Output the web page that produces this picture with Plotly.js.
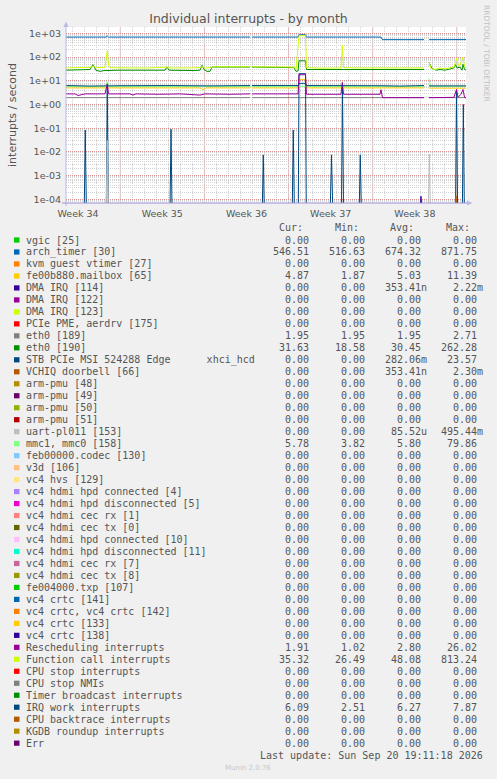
<!DOCTYPE html>
<html><head><meta charset="utf-8">
<script src="https://cdn.plot.ly/plotly-3.0.1.min.js"></script>
<style>html,body{margin:0;padding:0;background:#F0F0F0;}#chart{width:497px;height:779px;}</style>
</head><body><div id="chart"></div>
<script>
// ---------------- legend table (one entry per munin field) ----------------
const seriesNames = [
  "vgic [25]","arch_timer [30]","kvm guest vtimer [27]","fe00b880.mailbox [65]",
  "DMA IRQ [114]","DMA IRQ [122]","DMA IRQ [123]","PCIe PME, aerdrv [175]",
  "eth0 [189]","eth0 [190]","STB PCIe MSI 524288 Edge      xhci_hcd","VCHIQ doorbell [66]",
  "arm-pmu [48]","arm-pmu [49]","arm-pmu [50]","arm-pmu [51]",
  "uart-pl011 [153]","mmc1, mmc0 [158]","feb00000.codec [130]","v3d [106]","vc4 hvs [129]",
  "vc4 hdmi hpd connected [4]","vc4 hdmi hpd disconnected [5]","vc4 hdmi cec rx [1]","vc4 hdmi cec tx [0]",
  "vc4 hdmi hpd connected [10]","vc4 hdmi hpd disconnected [11]","vc4 hdmi cec rx [7]","vc4 hdmi cec tx [8]",
  "fe004000.txp [107]","vc4 crtc [141]","vc4 crtc, vc4 crtc [142]","vc4 crtc [133]","vc4 crtc [138]",
  "Rescheduling interrupts","Function call interrupts","CPU stop interrupts","CPU stop NMIs",
  "Timer broadcast interrupts","IRQ work interrupts","CPU backtrace interrupts","KGDB roundup interrupts","Err"
];
const seriesColors = [
  "#00CC00","#0066B3","#FF8000","#FFCC00","#330099","#990099","#CCFF00","#FF0000",
  "#808080","#008F00","#00487D","#B35A00","#B38F00","#6B006B","#8FB300","#B30000",
  "#BEBEBE","#80FF80","#80C9FF","#FFC080","#FFE680","#AA80FF","#EE00CC","#FF8080",
  "#666600","#FFBFFF","#00FFCC","#CC6699","#999900","#00CC00","#0066B3","#FF8000",
  "#FFCC00","#330099","#990099","#CCFF00","#FF0000","#808080","#008F00","#00487D",
  "#B35A00","#B38F00","#6B006B"
];
const curVals = ["0.00","546.51","0.00","4.87","0.00","0.00","0.00","0.00","1.95","31.63","0.00","0.00",
  "0.00","0.00","0.00","0.00","0.00","5.78","0.00","0.00","0.00","0.00","0.00","0.00","0.00","0.00","0.00",
  "0.00","0.00","0.00","0.00","0.00","0.00","0.00","1.91","35.32","0.00","0.00","0.00","6.09","0.00","0.00","0.00"];
const minVals = ["0.00","516.63","0.00","1.87","0.00","0.00","0.00","0.00","1.95","18.58","0.00","0.00",
  "0.00","0.00","0.00","0.00","0.00","3.82","0.00","0.00","0.00","0.00","0.00","0.00","0.00","0.00","0.00",
  "0.00","0.00","0.00","0.00","0.00","0.00","0.00","1.02","26.49","0.00","0.00","0.00","2.51","0.00","0.00","0.00"];
const avgVals = ["0.00","674.32","0.00","5.03","353.41n","0.00","0.00","0.00","1.95","30.45","282.06m","353.41n",
  "0.00","0.00","0.00","0.00","85.52u","5.80","0.00","0.00","0.00","0.00","0.00","0.00","0.00","0.00","0.00",
  "0.00","0.00","0.00","0.00","0.00","0.00","0.00","2.80","48.08","0.00","0.00","0.00","6.27","0.00","0.00","0.00"];
const maxVals = ["0.00","871.75","0.00","11.39","2.22m","0.00","0.00","0.00","2.71","262.28","23.57","2.30m",
  "0.00","0.00","0.00","0.00","495.44m","79.86","0.00","0.00","0.00","0.00","0.00","0.00","0.00","0.00","0.00",
  "0.00","0.00","0.00","0.00","0.00","0.00","0.00","26.02","813.24","0.00","0.00","0.00","7.87","0.00","0.00","0.00"];
const columnHeaders = ["Cur:","Min:","Avg:","Max:"];

// ---------------- axis labels ----------------
const weekLabelDays = [1, 8, 15, 22, 29];
const weekLabels = ["Week 34","Week 35","Week 36","Week 37","Week 38"];
const weekBoundaryDays = [4.5, 11.5, 18.5, 25.5, 32.5];
const yTickVals = [1e-4, 1e-3, 1e-2, 1e-1, 1e0, 1e1, 1e2, 1e3];
const yTickText = ["1e-04","1e-03","1e-02","1e-01","1e+00","1e+01","1e+02","1e+03"];

// ---------------- series (x in days from the left edge, y in interrupts/s; null = no data) ----------------
const archTimerX = [0,3.33,3.43,3.53,15.30,15.38,15.46,19.29,19.37,19.91,19.99,26.18,26.31,29.76,29.97,30.17,31.0,31.09,31.5,32.46,32.6,33.25];
const archTimerY = [700,700,780,700,700,null,700,700,870,880,700,700,545,545,null,545,545,570,548,555,545,548];

const mailboxX = [0,11.14,11.39,11.64,15.30,15.38,15.46,19.29,19.37,19.91,19.99,29.76,29.97,30.17,33.25];
const mailboxY = [5.0,5.0,4.2,5.0,5.0,null,5.0,5.0,11.4,11.4,5.0,5.0,null,4.9,4.87];

const dma114X = [0,29.45,29.51,29.57,33.25];
const dma114Y = [0,0,1.35e-4,0,0];

const eth189X = [0,15.30,15.38,15.46,29.76,29.97,30.17,33.25];
const eth189Y = [1.95,1.95,null,1.95,1.95,null,1.95,1.95];

const eth190X = [0,1.58,2.00,2.24,2.49,2.83,3.16,4.49,6.98,8.23,8.40,8.56,10.72,11.14,11.31,11.47,11.72,11.97,12.14,12.80,15.30,15.38,15.46,16.96,18.95,19.12,19.29,19.37,19.91,19.99,21.11,22.97,26.10,27.76,29.76,29.97,30.17,30.42,30.76,31.09,31.50,31.92,32.25,32.38,32.50,32.75,32.92,33.00,33.13,33.25];
const eth190Y = [28,28,30,48,28,25,27,28,28,28,38,28,27,28,45,30,25,25,38,38,38,null,38,37,36,25,26,70,70,30,30,30,30,30,30,null,60,33,28,30,28,32,35,48,35,38,28,50,30,28];

const xhciX = [0,1.52,1.60,1.69,3.35,3.43,3.52,8.65,8.73,8.81,16.32,16.40,16.48,18.81,18.89,18.98,19.31,19.37,19.91,19.97,21.97,22.07,22.17,22.90,22.98,23.07,24.38,24.46,24.55,32.38,32.46,32.55,32.95,33.03,33.11,33.25];
const xhciY = [0,0,0.083,0,0,6,0,0,0.09,0,0,0.0075,0,0,0.083,0,0,20,20,0,0,0.0075,0,0,8,0,0,0.0075,0,0,4,0,0,1.0,0,0];

const vchiqX = [0,32.36,32.42,32.48,33.25];
const vchiqY = [0,0,1.4e-4,0,0];

const uartX = [0,3.35,3.43,3.52,30.12,30.20,30.28,33.25];
const uartY = [0,0,0.03,0,0,0.008,0,0];

const mmcX = [0,3.24,3.43,3.57,15.30,15.38,15.46,29.76,29.97,30.17,30.30,33.25];
const mmcY = [5.8,5.8,9,5.8,5.8,null,5.8,5.8,null,13,5.8,5.8];

const reschedX = [0,0.75,1.00,1.58,3.24,3.33,3.43,3.53,5.32,5.57,5.82,7.81,9.48,11.14,11.55,13.63,15.30,15.38,15.46,19.29,19.37,19.91,19.99,22.86,22.97,23.07,26.10,26.18,26.31,29.76,29.97,30.17,31.09,32.25,32.46,32.59,32.83,33.00,33.13,33.25];
const reschedY = [2.8,2.8,2.4,2.8,2.8,5,7.5,2.8,2.8,2.5,2.8,2.7,2.8,2.5,2.8,2.7,2.8,null,2.8,2.8,18,18,2.7,2.7,8.5,2.7,2.7,4.2,1.95,1.95,null,1.95,1.95,2.0,4.3,2.0,2.7,4.3,2.0,1.91];

const funcCallX = [0,1.16,2.00,2.24,2.49,3.24,3.33,3.43,3.53,3.66,5.32,6.98,8.40,8.65,10.31,11.14,11.31,11.55,12.14,12.22,15.30,15.38,15.46,18.95,19.12,19.29,19.37,19.91,19.99,21.11,22.86,22.97,23.07,24.44,26.10,27.76,29.76,29.97,30.17,30.34,30.67,31.09,31.50,31.92,32.25,32.46,32.59,32.75,32.92,33.00,33.13,33.25];
const funcCallY = [35,36,37,42,36,37,70,190,45,36,35,35,38,35,35,36,40,34,37,39,39,null,39,38,30,300,800,800,36,34,35,320,36,35,36,35,35,null,62,33,30,35,32,34,38,90,46,45,70,100,40,35];

const irqWorkX = [0,2.00,4.49,6.15,8.65,11.97,13.63,15.30,15.38,15.46,19.29,19.37,19.91,19.99,21.95,26.10,27.76,29.76,29.97,30.17,33.25];
const irqWorkY = [6.3,6.0,6.2,6.4,6.3,6.1,6.0,6.3,null,6.3,6.3,7.8,7.8,6.3,6.4,6.2,6.0,6.3,null,6.1,6.1];

// which legend row each drawn series belongs to (drawn in legend order, like rrdtool)
const plotted = [
  {row: 1, x: archTimerX, y: archTimerY},
  {row: 3, x: mailboxX, y: mailboxY},
  {row: 4, x: dma114X, y: dma114Y},
  {row: 8, x: eth189X, y: eth189Y},
  {row: 9, x: eth190X, y: eth190Y},
  {row: 10, x: xhciX, y: xhciY},
  {row: 11, x: vchiqX, y: vchiqY},
  {row: 16, x: uartX, y: uartY},
  {row: 17, x: mmcX, y: mmcY},
  {row: 34, x: reschedX, y: reschedY},
  {row: 35, x: funcCallX, y: funcCallY},
  {row: 39, x: irqWorkX, y: irqWorkY}
];

// ---------------- geometry ----------------
const FIG_W = 497, FIG_H = 779;
const PL = 66, PR = 466, PT = 27, PB = 203;
const XR = [0, 33.25];
const YR = [-4.156, 3.27];
const PX = px => (px - PL) / (PR - PL);
const PY = py => (PB - py) / (PB - PT);
// zero cannot sit on a log axis; rrdtool pins it below the floor, so do the same
const ZERO_FLOOR = 5e-5;
const onLog = v => (v === null ? null : (v > 0 ? v : ZERO_FLOOR));

const traces = plotted.map(s => ({
  type: 'scatter', mode: 'lines',
  x: s.x, y: s.y.map(onLog),
  name: seriesNames[s.row],
  line: {color: seriesColors[s.row], width: 1},
  connectgaps: false, hoverinfo: 'skip', showlegend: false
}));

const SANS = 'DejaVu Sans, sans-serif';
const MONO = 'DejaVu Sans Mono, monospace';
const TXT = '#555555';
const annotations = [];
const shapes = [];

function note(text, px, py, xanchor, font, extra) {
  annotations.push(Object.assign({
    text: text, xref: 'paper', yref: 'paper', x: PX(px), y: PY(py),
    xanchor: xanchor, yanchor: 'middle', showarrow: false,
    borderpad: 0, borderwidth: 0, font: font
  }, extra || {}));
}
const monoFont = {family: MONO, size: 10, color: TXT};
const nb = s => s.replace(/ /g, '\u00A0');

// header
const headerRight = [303, 358.5, 414, 470];
columnHeaders.forEach((h, i) => note(h, headerRight[i], 227.5, 'right', monoFont));

// rows
const ROW0 = 240, ROWSTEP = 11.98, CHAR = 6.02;
const valueRight = [309.3, 365, 420.7, 476.7];
const cols = [curVals, minVals, avgVals, maxVals];
seriesNames.forEach((name, i) => {
  const y = ROW0 + i * ROWSTEP;
  shapes.push({type: 'rect', xref: 'paper', yref: 'paper', layer: 'above',
    x0: PX(14), x1: PX(19.5), y0: PY(y + 2.6), y1: PY(y - 2.6),
    fillcolor: seriesColors[i], line: {width: 0}});
  note(nb(name), 26, y, 'left', monoFont);
  cols.forEach((col, c) => {
    const v = col[i];
    const suffix = /[a-zA-Z]$/.test(v) ? CHAR : 0;
    note(v, valueRight[c] + suffix, y, 'right', monoFont);
  });
});
note(nb('Last update: Sun Sep 20 19:11:18 2026'), 483.3, 755.7, 'right', monoFont);
note('Munin 2.0.76', 248, 768, 'center', {family: SANS, size: 7, color: '#C8C8C8'});
note('RRDTOOL / TOBI OETIKER', 487, 53, 'center', {family: SANS, size: 7.5, color: '#C0C0C0'}, {textangle: 90});

// week boundary grid lines (major, red dotted)
weekBoundaryDays.forEach(d => shapes.push({
  type: 'line', xref: 'x', yref: 'paper', x0: d, x1: d, y0: 0, y1: 1, layer: 'below',
  line: {color: 'rgba(230,90,90,0.55)', width: 1, dash: '1px,1px'}
}));
// axes and arrows (rrdtool style)
const AXIS = '#B9B9EA';
shapes.push({type: 'line', xref: 'paper', yref: 'paper', x0: PX(66), x1: PX(66), y0: PY(206), y1: PY(25), line: {color: AXIS, width: 1}, layer: 'above'});
shapes.push({type: 'line', xref: 'paper', yref: 'paper', x0: PX(62), x1: PX(468), y0: PY(203), y1: PY(203), line: {color: '#9C8FD6', width: 1}, layer: 'above'});
shapes.push({type: 'path', xref: 'paper', yref: 'paper', layer: 'above',
  path: `M ${PX(63.5)} ${PY(27)} L ${PX(68.5)} ${PY(27)} L ${PX(66)} ${PY(21.5)} Z`,
  fillcolor: AXIS, line: {width: 0}});
shapes.push({type: 'path', xref: 'paper', yref: 'paper', layer: 'above',
  path: `M ${PX(467)} ${PY(200.5)} L ${PX(467)} ${PY(205.5)} L ${PX(472.5)} ${PY(203)} Z`,
  fillcolor: AXIS, line: {width: 0}});

const layout = {
  width: FIG_W, height: FIG_H,
  paper_bgcolor: '#F0F0F0', plot_bgcolor: '#FFFFFF',
  margin: {l: PL, r: FIG_W - PR, t: PT, b: FIG_H - PB, pad: 0},
  showlegend: false,
  title: {text: 'Individual interrupts - by month', font: {family: SANS, size: 12.5, color: TXT},
    x: 0.5, xanchor: 'center', xref: 'container', y: 1 - 19 / FIG_H, yanchor: 'middle', yref: 'container'},
  xaxis: {
    type: 'linear', range: XR, fixedrange: true,
    tickmode: 'array', tickvals: weekLabelDays, ticktext: weekLabels,
    ticks: '', showgrid: false, zeroline: false, showline: false,
    tickfont: {family: SANS, size: 9.5, color: TXT},
    ticklabelstandoff: 3,
    minor: {tick0: 0.5, dtick: 1, showgrid: true, gridcolor: '#D2D2D2', griddash: '1px,1px', gridwidth: 1, ticks: ''}
  },
  yaxis: {
    type: 'log', range: YR, fixedrange: true,
    tickmode: 'array', tickvals: yTickVals, ticktext: yTickText,
    ticks: '', showgrid: true, gridcolor: 'rgba(230,90,90,0.55)', griddash: '1px,1px', gridwidth: 1,
    zeroline: false, showline: false,
    tickfont: {family: SANS, size: 9.5, color: TXT},
    ticklabelstandoff: 4,
    minor: {dtick: 'D1', showgrid: true, gridcolor: '#D2D2D2', griddash: '1px,1px', gridwidth: 1, ticks: ''},
    title: {text: 'interrupts / second', font: {family: SANS, size: 11, color: TXT}, standoff: 10}
  },
  annotations: annotations,
  shapes: shapes
};

Plotly.newPlot('chart', traces, layout, {staticPlot: true, displayModeBar: false});
</script></body></html>
